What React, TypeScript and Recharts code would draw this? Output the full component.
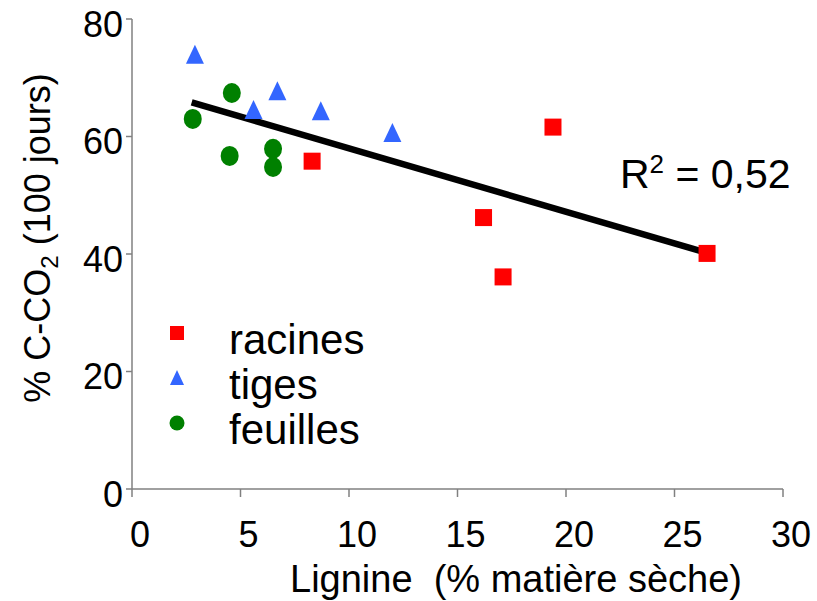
import { ScatterChart, Scatter, XAxis, YAxis, ReferenceLine } from "recharts";

const racinesX = [8.3, 16.2, 17.1, 19.4, 26.5];
const racinesY = [55.8, 46.2, 36.1, 61.6, 40.1];
const tigesX = [2.9, 5.6, 6.7, 8.7, 12.0];
const tigesY = [73.9, 64.5, 67.7, 64.3, 60.6];
const feuillesX = [2.8, 4.6, 4.5, 6.5, 6.5];
const feuillesY = [63.0, 67.4, 56.7, 57.9, 54.8];
const trendX = [2.75, 26.3];
const trendY = [65.8, 40.4];
const xTicks = [0, 5, 10, 15, 20, 25, 30];
const yTicks = [0, 20, 40, 60, 80];

const toPoints = (xs: number[], ys: number[]) => xs.map((x, i) => ({ x, y: ys[i] }));
const racines = toPoints(racinesX, racinesY);
const tiges = toPoints(tigesX, tigesY);
const feuilles = toPoints(feuillesX, feuillesY);
const trend = toPoints(trendX, trendY);

const RED = "#ff0000";
const BLUE = "#3366ff";
const GREEN = "#008000";
const FONT = "'Liberation Sans', Arial, sans-serif";

const Square = ({ cx, cy }: any) => (
  <rect x={cx - 8.5} y={cy - 8.5} width={17} height={17} fill={RED} />
);
const Triangle = ({ cx, cy }: any) => (
  <path d={`M${cx},${cy - 10} L${cx + 9},${cy + 9} L${cx - 9},${cy + 9} Z`} fill={BLUE} />
);
const Dot = ({ cx, cy }: any) => <ellipse cx={cx} cy={cy} rx={9} ry={10} fill={GREEN} />;

const legendItems = [
  { name: "racines", kind: "square" },
  { name: "tiges", kind: "triangle" },
  { name: "feuilles", kind: "circle" },
];

function Overlay() {
  return (
    <svg
      width={817}
      height={601}
      style={{ position: "absolute", left: 0, top: 0, pointerEvents: "none" }}
    >
      {legendItems.map((it, i) => {
        const cy = 333 + i * 45;
        return (
          <g key={it.name}>
            {it.kind === "square" && <rect x={170} y={cy - 7} width={14} height={14} fill={RED} />}
            {it.kind === "triangle" && (
              <path d={`M177,${cy - 8} L184,${cy + 7} L170,${cy + 7} Z`} fill={BLUE} />
            )}
            {it.kind === "circle" && <ellipse cx={177} cy={cy} rx={7.5} ry={7.5} fill={GREEN} />}
            <text x={229} y={cy + 21} fontFamily={FONT} fontSize={42} fill="#000">
              {it.name}
            </text>
          </g>
        );
      })}
      <text x={620} y={188} fontFamily={FONT} fontSize={41} fill="#000">
        R<tspan fontSize={26} dy={-15}>2</tspan>
        <tspan dy={15}>{"\u00a0= 0,52"}</tspan>
      </text>
    </svg>
  );
}

const YLabel = () => (
  <text
    transform="translate(50,238) rotate(-90)"
    textAnchor="middle"
    fontFamily={FONT}
    fontSize={36}
    fill="#000"
  >
    % C-CO<tspan fontSize={24} dy={8}>2</tspan>
    <tspan dy={-8}> (100 jours)</tspan>
  </text>
);

const XLabel = () => (
  <text x={516} y={592} textAnchor="middle" fontFamily={FONT} fontSize={38} fill="#000">
    {"Lignine\u00a0 (% matière sèche)"}
  </text>
);

const YTick = ({ x, y, payload }: any) => (
  <text x={x} y={y + 5} dy="0.355em" textAnchor="end" fontFamily={FONT} fontSize={36} fill="#000">
    {payload.value}
  </text>
);

const XTick = ({ x, y, payload }: any) => (
  <text x={x + 8} y={y} dy="0.71em" textAnchor="middle" fontFamily={FONT} fontSize={36} fill="#000">
    {payload.value}
  </text>
);

export default function App() {
  return (
    <div style={{ position: "absolute", left: 0, top: 0, width: 817, height: 601, background: "#fff" }}>
      <ScatterChart width={817} height={601} margin={{ top: 19, right: 34, left: 0, bottom: 0 }}>
        <XAxis
          type="number"
          dataKey="x"
          domain={[0, 30]}
          ticks={xTicks}
          height={112}
          tick={<XTick />}
          tickSize={8}
          tickMargin={24}
          axisLine={{ stroke: "#808080", strokeWidth: 1.5 }}
          tickLine={{ stroke: "#808080", strokeWidth: 1.5 }}
          label={<XLabel />}
        />
        <YAxis
          type="number"
          dataKey="y"
          domain={[0, 80]}
          ticks={yTicks}
          width={132}
          tick={<YTick />}
          tickSize={6}
          tickMargin={3}
          axisLine={{ stroke: "#808080", strokeWidth: 1.5 }}
          tickLine={{ stroke: "#808080", strokeWidth: 1.5 }}
          label={<YLabel />}
        />
        <ReferenceLine
          segment={[trend[0], trend[1]]}
          stroke="#000"
          strokeWidth={6.5}
          ifOverflow="visible"
        />
        <Scatter name="feuilles" data={feuilles} shape={<Dot />} isAnimationActive={false} />
        <Scatter name="tiges" data={tiges} shape={<Triangle />} isAnimationActive={false} />
        <Scatter name="racines" data={racines} shape={<Square />} isAnimationActive={false} />
      </ScatterChart>
      <Overlay />
    </div>
  );
}
